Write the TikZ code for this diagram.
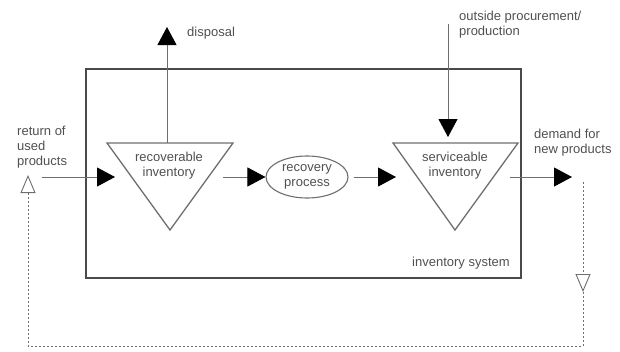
\documentclass[tikz,border=0pt]{standalone}
\usepackage{fontspec}
\setmainfont{Liberation Sans}
\usepackage{tikz}
\usetikzlibrary{positioning,shapes.geometric,arrows.meta}
\definecolor{LineGray}{HTML}{6E6E6E}
\definecolor{BoxGray}{HTML}{4A4A4A}
\definecolor{TextGray}{HTML}{505050}

\begin{document}
\begin{tikzpicture}[
      x=1pt, y=-1pt,
      every node/.style={font=\fontsize{13}{15}\selectfont, text=TextGray},
      lbl/.style={align=left, inner sep=0pt},
      stock/.style={draw=LineGray, line width=1.3pt, line join=miter},
      sysbox/.style={draw=BoxGray, line width=2pt, minimum width=435pt, minimum height=209pt, inner sep=0pt},
      proc/.style={draw=LineGray, line width=1.1pt, ellipse, minimum width=82pt, minimum height=42pt, inner sep=0pt, align=center},
      arrow/.style={LineGray, line width=1pt, -{Triangle[length=18pt, width=19pt, black]}},
      back/.style={LineGray, line width=0.9pt, dash pattern=on 2pt off 2pt, -{Triangle[open, length=18pt, width=15pt]}}
    ]
      \useasboundingbox (0,0) rectangle (620,351);

      \node[sysbox] (sys) at (303.5,173.5) {};

      % inventories
      \draw[stock] (107,143) -- (233,143) -- (170,230) -- cycle;
      \draw[stock] (393,143) -- (518,143) -- (455,230) -- cycle;
      \node[align=center, inner sep=0pt] (rec) at (169,166) {recoverable\\inventory};
      \node[align=center, inner sep=0pt] (srv) at (455,166) {serviceable\\inventory};
      \node[proc] (recproc) at (307,177) {recovery\\process};

      \coordinate (retin) at (42,177);
      \coordinate (recin) at (115,177);
      \coordinate (recout) at (223,177);
      \coordinate (recup) at (167,143);
      \coordinate (disp) at (167,27);
      \coordinate (srvin) at (396,177);
      \coordinate (procure) at (448,24);
      \coordinate (srvtop) at (448,137);
      \coordinate (srvout) at (510,177);
      \coordinate (dem) at (572,177);
      \coordinate (fb0) at (583,182);
      \coordinate (fb1) at (583,292);
      \coordinate (fb2) at (583,346);
      \coordinate (fb3) at (28,346);
      \coordinate (fb4) at (28,175);

      \draw[arrow] (retin) -- (recin);
      \draw[arrow] (recup) -- (disp);
      \draw[arrow] (recout) -- (recproc.west);
      \draw[arrow] ([xshift=5pt]recproc.east) -- (srvin);
      \draw[arrow] (procure) -- (srvtop);
      \draw[arrow] (srvout) -- (dem);

      % return flow
      \draw[back] (fb0) -- (fb1);
      \draw[back] (fb1) -- (fb2) -- (fb3) -- (fb4);

      \node[lbl, anchor=west] (ret) at (17,147) {return of\\used\\products};
      \node[lbl, anchor=west] (displbl) at (187,33) {disposal};
      \node[lbl, anchor=west] (proclbl) at (459,25) {outside procurement/\\production};
      \node[lbl, anchor=west] (demlbl) at (534,143) {demand for\\new products};
      \node[lbl, anchor=west] (syslbl) at (412,263) {inventory system};

    \end{tikzpicture}
\end{document}
